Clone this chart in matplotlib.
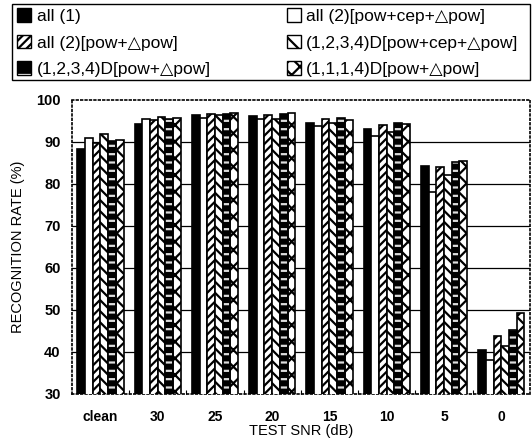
import matplotlib
matplotlib.use("Agg")
import matplotlib.pyplot as plt
import matplotlib.patches as mpatches
import numpy as np

plt.rcParams['font.family'] = ['Liberation Sans', 'DejaVu Sans']
plt.rcParams['hatch.linewidth'] = 1.6

categories = ["clean", "30", "25", "20", "15", "10", "5", "0"]
series_names = ["all (1)", "all (2)[pow+cep+\u25b3pow]", "all (2)[pow+\u25b3pow]",
                "(1,2,3,4)D[pow+cep+\u25b3pow]", "(1,2,3,4)D[pow+\u25b3pow]",
                "(1,1,1,4)D[pow+\u25b3pow]"]
s1 = [88.2, 94.3, 96.4, 96.1, 94.6, 93.0, 84.3, 40.4]
s2 = [90.9, 95.5, 95.6, 95.4, 93.8, 91.3, 78.1, 38.1]
s3 = [89.8, 95.1, 96.6, 96.3, 95.4, 93.9, 84.0, 43.7]
s4 = [91.8, 96.0, 96.4, 95.5, 94.4, 92.4, 82.2, 41.3]
s5 = [90.2, 95.5, 96.6, 96.7, 95.6, 94.4, 85.1, 45.3]
s6 = [90.5, 95.8, 96.8, 96.8, 95.3, 94.3, 85.5, 49.2]
series = [s1, s2, s3, s4, s5, s6]

fig = plt.figure(figsize=(5.32, 4.40), dpi=100)
ax = fig.add_axes([0.135, 0.105, 0.861, 0.668])

x = np.arange(len(categories))
w = 0.135
offsets = (np.arange(6) - 2.5) * w

styles = [
    dict(facecolor='black', hatch=None),
    dict(facecolor='white', hatch=None),
    dict(facecolor='white', hatch='////'),
    dict(facecolor='white', hatch='\\\\\\'),
    None,
    dict(facecolor='white', hatch='xx'),
]

for i, vals in enumerate(series):
    pos = x + offsets[i]
    if i == 4:
        ax.bar(pos, vals, w, facecolor='black', edgecolor='#dddddd', hatch='--',
               linewidth=0, zorder=3)
        ax.bar(pos, vals, w, facecolor='none', edgecolor='black', linewidth=1.2, zorder=4)
    else:
        st = styles[i]
        ax.bar(pos, vals, w, facecolor=st['facecolor'], edgecolor='black',
               hatch=st['hatch'], linewidth=1.2, zorder=3)

ax.set_ylim(30, 100)
ax.set_xlim(-0.5, len(categories) - 0.5)
ax.set_yticks(np.arange(30, 101, 10))
ax.set_xticks(x)
ax.set_xticklabels(categories, fontweight='bold', fontsize=10)
for lab in ax.get_yticklabels():
    lab.set_fontweight('bold')
    lab.set_fontsize(10.5)
ax.tick_params(axis='x', length=0, pad=12)
ax.tick_params(axis='y', length=0, pad=8)
ax.set_xticks(np.arange(0.5, len(categories) - 1, 1), minor=True)
ax.tick_params(axis='x', which='minor', length=3, direction='in', width=0.8)

for yv in range(40, 100, 10):
    ax.axhline(yv, color='black', linewidth=0.9, zorder=1)

for sp in ax.spines.values():
    sp.set_linestyle(':')
    sp.set_linewidth(1.2)

ax.set_ylabel("RECOGNITION RATE (%)", fontsize=10.5, labelpad=8)
ax.set_xlabel("TEST SNR (dB)", fontsize=10.5, labelpad=0)

# legend handles
h = []
h.append(mpatches.Patch(facecolor='black', edgecolor='black', linewidth=1))
h.append(mpatches.Patch(facecolor='white', edgecolor='black', linewidth=1))
h.append(mpatches.Patch(facecolor='white', edgecolor='black', hatch='////', linewidth=1))
h.append(mpatches.Patch(facecolor='white', edgecolor='black', hatch='\\\\', linewidth=1))
h.append((mpatches.Patch(facecolor='black', edgecolor='white', hatch='-', linewidth=0),
          mpatches.Patch(facecolor='none', edgecolor='black', linewidth=1)))
h.append(mpatches.Patch(facecolor='white', edgecolor='black', hatch='xx', linewidth=1))
order = [0, 2, 4, 1, 3, 5]
leg = fig.legend([h[k] for k in order], [series_names[k] for k in order],
                 loc='upper left', bbox_to_anchor=(14/532, 1 - 5/440),
                 ncol=2, fontsize=12.5, frameon=False,
                 handlelength=0.8, handleheight=0.8,
                 handletextpad=0.3, labelspacing=0.62, borderaxespad=0,
                 borderpad=0.2, columnspacing=4.4)
for t in leg.get_texts():
    t.set_fontweight('medium')

frame = mpatches.Rectangle((12/532, 1 - 80/440), 518/532, 76/440,
                           transform=fig.transFigure, facecolor='none',
                           edgecolor='black', linewidth=1.0)
fig.add_artist(frame)

fig.savefig("out.png", dpi=100)
